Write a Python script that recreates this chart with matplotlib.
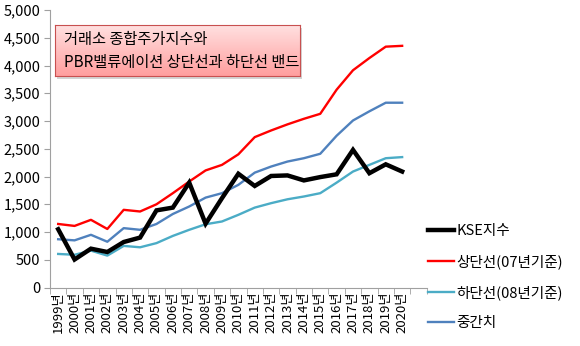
import numpy as np
import matplotlib.pyplot as plt
from matplotlib.lines import Line2D
from matplotlib.patches import Rectangle

plt.rcParams['font.family'] = ['Noto Sans CJK KR', 'DejaVu Sans']

# 카테고리 (마지막 칸은 빈 칸)
years = [f"{y}년" for y in range(1999, 2021)] + [""]

kse = [1050, 505, 700, 640, 820, 900, 1390, 1440, 1890, 1150, 1610,
       2050, 1830, 2010, 2020, 1930, 1990, 2040, 2480, 2060, 2220, 2090]
upper = [1145, 1110, 1220, 1055, 1400, 1370, 1500, 1700, 1910, 2110, 2210,
         2400, 2710, 2830, 2940, 3040, 3130, 3565, 3915, 4135, 4340, 4355]
lower = [605, 590, 665, 575, 750, 725, 800, 930, 1040, 1140, 1190,
         1310, 1440, 1520, 1590, 1640, 1700, 1890, 2090, 2210, 2330, 2350]
middle = [870, 850, 950, 825, 1070, 1040, 1145, 1325, 1460, 1620, 1700,
          1850, 2070, 2180, 2270, 2330, 2410, 2735, 3010, 3175, 3330, 3330]

labels = ['KSE지수', '상단선(07년기준)', '하단선(08년기준)', '중간치']
colors = ['#000000', '#FF0000', '#4BACC6', '#4F81BD']

fig = plt.figure(figsize=(5.8, 3.46), dpi=100)
ax = fig.add_axes([0.0862, 0.169, 0.6495, 0.802])

x = np.arange(len(kse))
ax.plot(x, kse, color=colors[0], lw=3.2, solid_joinstyle='miter', zorder=5)
ax.plot(x, upper, color=colors[1], lw=1.7, zorder=4)
ax.plot(x, lower, color=colors[2], lw=1.7, zorder=3)
ax.plot(x, middle, color=colors[3], lw=1.7, zorder=3)

ax.set_xlim(-0.5, len(years) - 0.5)
ax.set_ylim(0, 5000)
ax.set_yticks(np.arange(0, 5001, 500))
ax.set_yticklabels([f"{v:,}" for v in range(0, 5001, 500)], fontsize=10.5)
ax.set_xticks(np.arange(len(years)))
ax.set_xticklabels(years, rotation=90, fontsize=9.5, va='top')
ax.set_xticks(np.arange(-0.5, len(years)), minor=True)
ax.tick_params(axis='x', which='major', length=0, pad=3)
ax.tick_params(axis='x', which='minor', length=4, color='#A0A0A0', direction='out')
ax.tick_params(axis='y', length=4, color='#A0A0A0', direction='out', pad=3)
for s in ['top', 'right']:
    ax.spines[s].set_visible(False)
for s in ['left', 'bottom']:
    ax.spines[s].set_color('#A0A0A0')

# 제목 상자 그림자
fig.patches.append(Rectangle((57 / 580, 1 - 79 / 346), 245 / 580, 51 / 346,
                             transform=fig.transFigure, facecolor='#B8B8B8',
                             edgecolor='none', alpha=0.6, zorder=1))

# 제목 상자 (그라데이션)
bx = fig.add_axes([55 / 580, 1 - 76 / 346, 245 / 580, 51 / 346], zorder=2)
grad = np.linspace(0, 1, 100).reshape(-1, 1)
top = np.array([1.0, 0.88, 0.88])
bot = np.array([1.0, 0.62, 0.62])
img = top + grad[:, :, None] * (bot - top)
bx.imshow(img, aspect='auto', extent=[0, 1, 0, 1])
bx.set_xticks([])
bx.set_yticks([])
for s in bx.spines.values():
    s.set_color('#C85050')
    s.set_linewidth(0.8)
bx.text(0.035, 0.72, '거래소 종합주가지수와', fontsize=11, va='center', ha='left',
        transform=bx.transAxes)
bx.text(0.035, 0.26, 'PBR밸류에이션 상단선과 하단선 밴드', fontsize=11, va='center',
        ha='left', transform=bx.transAxes)

# 범례
handles = [Line2D([], [], color=c, lw=(3.2 if i == 0 else 1.7))
           for i, c in enumerate(colors)]
fig.legend(handles, labels, loc='upper left', bbox_to_anchor=(428 / 580, 1 - 224 / 346),
           frameon=False, fontsize=10.5, handlelength=1.8, handletextpad=0.15,
           labelspacing=1.1, borderaxespad=0, borderpad=0)

fig.savefig('out.png', dpi=100)
